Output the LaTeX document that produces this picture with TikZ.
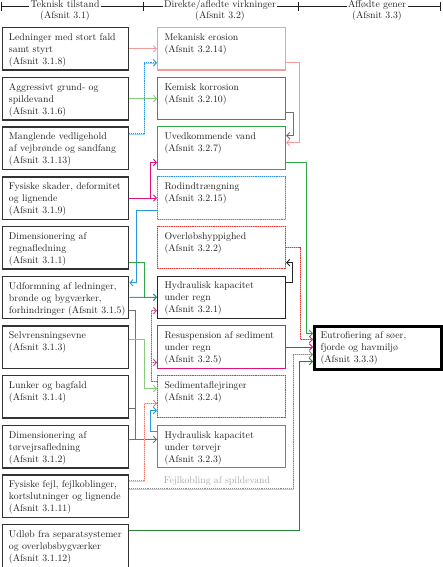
\documentclass[tikz,border=0pt]{standalone}
\usetikzlibrary{arrows.meta}
\definecolor{txt}{HTML}{1E1E1E}
\definecolor{lbord}{HTML}{333333}
\definecolor{pinkc}{HTML}{F29C9C}
\definecolor{grayc}{HTML}{707070}
\definecolor{greenc}{HTML}{2DA646}
\definecolor{bluec}{HTML}{2898E0}
\definecolor{redc}{HTML}{E8352F}
\definecolor{darkc}{HTML}{262626}
\definecolor{magc}{HTML}{E2117E}
\definecolor{sedc}{HTML}{A54C74}
\definecolor{lgreen}{HTML}{86CC7C}
\definecolor{salmonc}{HTML}{EE7B6E}
\definecolor{purpc}{HTML}{B84D8A}
\definecolor{fkc}{HTML}{8A8A8A}
\definecolor{fklab}{HTML}{A8A8A8}
\definecolor{tealc}{HTML}{3F97B8}
\tikzset{
  lb/.style={draw=lbord, line width=1.4pt, anchor=north west, minimum width=126.5pt, minimum height=42.5pt, inner sep=0pt},
  mb/.style={line width=1.1pt, anchor=north west, minimum width=128pt, minimum height=42.5pt, inner sep=0pt},
  tx/.style={anchor=north west, align=left, inner sep=0pt, text=txt, font=\fontsize{9.8}{12}\selectfont},
  hd/.style={anchor=base, inner sep=1.5pt, fill=white, text=txt, font=\fontsize{9.8}{12}\selectfont},
  con/.style={line width=0.9pt, -{Straight Barb[length=3pt,width=6.5pt]}},
  ln/.style={line width=0.9pt},
  dotc/.style={draw=#1, densely dotted, preaction={draw=#1!45, solid}},
}
\newcommand{\tb}[2]{\node[tx] (#1t) at ([xshift=7.3pt,yshift=-6.4pt]#1.north west) {#2};}
\begin{document}
\begin{tikzpicture}[x=1pt,y=-1pt]
\useasboundingbox (0,0) rectangle (442,567);
% header
\draw[line width=0.7pt, txt] (1,6.5) -- (440,6.5);
\foreach \xx in {1,143,298,440} \draw[line width=0.9pt, txt] (\xx,2) -- (\xx,11);
\node[hd] (h1) at (65,8) {Teknisk tilstand};
\node[hd] (h1b) at (65,19) {(Afsnit 3.1)};
\node[hd] (h2) at (220,8) {Direkte/afledte virkninger};
\node[hd] (h2b) at (220,19) {(Afsnit 3.2)};
\node[hd] (h3) at (377,8) {Affødte gener};
\node[hd] (h3b) at (377,19) {(Afsnit 3.3)};

% left boxes
\node[lb] (L1) at (1.5,27) {};
\node[lb] (L2) at (1.5,76.7) {};
\node[lb] (L3) at (1.5,126.4) {};
\node[lb] (L4) at (1.5,176.1) {};
\node[lb] (L5) at (1.5,225.8) {};
\node[lb] (L6) at (1.5,275.5) {};
\node[lb] (L7) at (1.5,325.2) {};
\node[lb] (L8) at (1.5,374.9) {};
\node[lb] (L9) at (1.5,424.6) {};
\node[lb] (L10) at (1.5,474.3) {};
\node[lb] (L11) at (1.5,524) {};
\tb{L1}{Ledninger med stort fald\\samt styrt\\(Afsnit 3.1.8)}
\tb{L2}{Aggressivt grund- og\\spildevand\\(Afsnit 3.1.6)}
\tb{L3}{Manglende vedligehold\\af vejbrønde og sandfang\\(Afsnit 3.1.13)}
\tb{L4}{Fysiske skader, deformitet\\og lignende\\(Afsnit 3.1.9)}
\tb{L5}{Dimensionering af\\regnafledning\\(Afsnit 3.1.1)}
\tb{L6}{Udformning af ledninger,\\brønde og bygværker,\\forhindringer (Afsnit 3.1.5)}
\tb{L7}{Selvrensningsevne\\(Afsnit 3.1.3)}
\tb{L8}{Lunker og bagfald\\(Afsnit 3.1.4)}
\tb{L9}{Dimensionering af\\tørvejrsafledning\\(Afsnit 3.1.2)}
\tb{L10}{Fysiske fejl, fejlkoblinger,\\kortslutninger og lignende\\(Afsnit 3.1.11)}
\tb{L11}{Udløb fra separatsystemer\\og overløbsbygværker\\(Afsnit 3.1.12)}

% middle boxes
\node[mb, draw=pinkc] (M1) at (157,27) {};
\node[mb, draw=grayc] (M2) at (157,76.7) {};
\node[mb, draw=greenc] (M3) at (157,126.4) {};
\node[mb, dotc=bluec] (M4) at (157,176.1) {};
\node[mb, dotc=redc] (M5) at (157,225.8) {};
\node[mb, draw=darkc] (M6) at (157,275.5) {};
\node[mb, draw=magc] (M7) at (157,325.2) {};
\node[mb, dotc=sedc, line width=1pt] (M8) at (157,374.9) {};
\node[mb, draw=bluec] (M9) at (157,424.6) {};
\tb{M1}{Mekanisk erosion\\(Afsnit 3.2.14)}
\tb{M2}{Kemisk korrosion\\(Afsnit 3.2.10)}
\tb{M3}{Uvedkommende vand\\(Afsnit 3.2.7)}
\tb{M4}{Rodindtrængning\\(Afsnit 3.2.15)}
\tb{M5}{Overløbshyppighed\\(Afsnit 3.2.2)}
\tb{M6}{Hydraulisk kapacitet\\under regn\\(Afsnit 3.2.1)}
\tb{M7}{Resuspension af sediment\\under regn\\(Afsnit 3.2.5)}
\tb{M8}{Sedimentaflejringer\\(Afsnit 3.2.4)}
\tb{M9}{Hydraulisk kapacitet\\under tørvejr\\(Afsnit 3.2.3)}

% right box
\node[draw=black, line width=2.6pt, anchor=north west, minimum width=127pt, minimum height=43pt, inner sep=0pt] (E) at (313,325.2) {};
\tb{E}{Eutrofiering af søer,\\fjorde og havmiljø\\(Afsnit 3.3.3)}

% label
\node[text=fklab, inner sep=0pt, font=\fontsize{9.8}{12}\selectfont] (fkl) at (217,481) {Fejlkobling af spildevand};

% left -> middle connectors
\draw[con, pinkc] (L1.east) -- (L1.east -| M1.west);
\draw[con, dotc=bluec] ([yshift=14.5pt]L3.east) -- ++(15,0) |- ([yshift=-14pt]M1.west);
\draw[con, lgreen] (L2.east) -- (L2.east -| M2.west);
\draw[con, magc] (L4.east) -- (L4.east -| M4.west);
\draw[con, magc] ([xshift=21pt]L4.east) |- ([yshift=-14.3pt]M3.west);
\draw[con, bluec] ([yshift=-12.6pt]M4.west) -- ++(-21,0) |- ([yshift=14.7pt]L6.east);
\draw[con, tealc] (L6.east) -- (M6.west);
\draw[con, greenc] ([yshift=-15pt]L5.east) -- ++(15,0) |- (M6.west);
\draw[con, grayc] ([yshift=7pt]L9.east) -- ([yshift=7pt]M9.west);
\draw[ln, grayc] ([yshift=-13pt]L6.east) -- ++(6,0) |- ([yshift=7pt]M9.west);
\draw[ln, grayc] ([yshift=-12pt]L8.east) -- ++(6,0);
\draw[con, lgreen] ([yshift=7.5pt]L7.east) -- ++(15,0) |- ([yshift=8pt]M8.west);
\draw[con, dotc=purpc] ([yshift=15pt]M8.west) -- ++(-6,0) |- ([yshift=-13.3pt]M6.west);
\draw[con, dotc=purpc] ([xshift=-6pt,yshift=-15.5pt]M7.west) -- ([yshift=-15.5pt]M7.west);
\draw[con, dotc=salmonc] ([yshift=15.5pt]L10.east) -- ++(15,0) |- ([yshift=-6.8pt]M8.west);
\draw[con, bluec] ([yshift=14.8pt]M9.west) -- ++(-7,0) |- ([yshift=-13.8pt]M8.west);

% to the right box
\draw[con, dotc=fkc] ([yshift=7.5pt]L10.east) -| ([xshift=-20pt,yshift=-6.5pt]E.west) -- ([yshift=-6.5pt]E.west);
\draw[con, greenc!80!black] ([yshift=15.2pt]L11.east) -| ([xshift=-14pt,yshift=-13.5pt]E.west) -- ([yshift=-13.5pt]E.west);
\draw[con, greenc] ([yshift=-14.3pt]M3.east) -| ([xshift=-7pt,yshift=14.5pt]E.west) -- ([yshift=14.5pt]E.west);
\draw[con, dotc=redc] (M5.east) -| ([xshift=-13pt,yshift=8.5pt]E.west) -- ([yshift=8.5pt]E.west);
\draw[con, magc] (M7.east) -- (M7.east -| E.west);

% middle -> middle (right side)
\draw[con, pinkc] ([yshift=-13.8pt]M1.east) -- ++(13,0) |- ([yshift=5.6pt]M3.east);
\draw[con, grayc] ([yshift=-14pt]M2.east) -- ++(7,0) |- ([yshift=12.6pt]M3.east);
\draw[con, darkc] ([yshift=14.7pt]M6.east) -- ++(6,0) |- ([yshift=-15pt]M5.east);
\end{tikzpicture}
\end{document}
